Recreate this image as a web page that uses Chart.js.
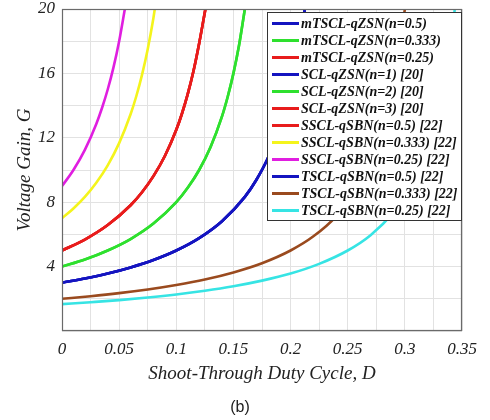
<!DOCTYPE html>
<html>
<head>
<meta charset="utf-8">
<script src="https://cdn.jsdelivr.net/npm/chart.js@4.4.1/dist/chart.umd.min.js"></script>
<style>
  html, body { margin: 0; padding: 0; background: #fff; }
  #wrap { width: 490px; height: 420px; position: relative; }
</style>
</head>
<body>
<div id="wrap"><canvas id="gain" width="490" height="420"></canvas></div>
<script>
  // Voltage gain G vs shoot-through duty cycle D.
  // Each visible curve is shared by several legend entries (they overlap).
  var dG3 = [0, 0.02, 0.04, 0.06, 0.08, 0.10, 0.12, 0.14, 0.16, 0.17, 0.18, 0.19, 0.20, 0.205, 0.21, 0.2125];
  var gG3 = [3.00, 3.26, 3.57, 3.95, 4.41, 5.00, 5.77, 6.82, 8.33, 9.38, 10.71, 12.5, 15.0, 16.67, 18.75, 20];

  var dG4 = [0, 0.02, 0.04, 0.06, 0.08, 0.10, 0.11, 0.12, 0.13, 0.14, 0.145, 0.15, 0.155, 0.16];
  var gG4 = [4.00, 4.44, 5.00, 5.71, 6.67, 8.00, 8.89, 10.0, 11.43, 13.33, 14.55, 16.0, 17.78, 20];

  var dG5 = [0, 0.02, 0.04, 0.06, 0.07, 0.08, 0.09, 0.10, 0.105, 0.11, 0.115, 0.12, 0.1255];
  var gG5 = [5.00, 5.68, 6.58, 7.81, 8.62, 9.62, 10.87, 12.5, 13.51, 14.71, 16.13, 17.86, 20];

  var dG7 = [0, 0.01, 0.02, 0.03, 0.04, 0.05, 0.06, 0.065, 0.07, 0.075, 0.08, 0.0812];
  var gG7 = [7.00, 7.61, 8.33, 9.21, 10.29, 11.67, 13.46, 14.58, 15.91, 17.5, 19.44, 20];

  var dG9 = [0, 0.01, 0.02, 0.03, 0.035, 0.04, 0.045, 0.05, 0.055];
  var gG9 = [9.00, 10.0, 11.25, 12.86, 13.85, 15.0, 16.36, 18.0, 20];

  var dG2 = [0, 0.025, 0.05, 0.075, 0.10, 0.125, 0.15, 0.175, 0.20, 0.22, 0.24, 0.26, 0.27, 0.28, 0.29, 0.295, 0.30];
  var gG2 = [2.00, 2.16, 2.35, 2.58, 2.86, 3.20, 3.64, 4.21, 5.00, 5.88, 7.14, 9.09, 10.53, 12.5, 15.38, 17.39, 20];

  var dG167 = [0, 0.025, 0.05, 0.075, 0.10, 0.125, 0.15, 0.175, 0.20, 0.225, 0.25, 0.27, 0.29, 0.30, 0.31, 0.32, 0.33, 0.335, 0.34, 0.3437];
  var gG167 = [1.67, 1.79, 1.92, 2.08, 2.27, 2.50, 2.78, 3.13, 3.57, 4.17, 5.00, 5.95, 7.35, 8.33, 9.62, 11.36, 13.89, 15.63, 17.86, 20];

  var seriesLabels = [
    "mTSCL-qZSN(n=0.5)", "mTSCL-qZSN(n=0.333)", "mTSCL-qZSN(n=0.25)",
    "SCL-qZSN(n=1) [20]", "SCL-qZSN(n=2) [20]", "SCL-qZSN(n=3) [20]",
    "SSCL-qSBN(n=0.5) [22]", "SSCL-qSBN(n=0.333) [22]", "SSCL-qSBN(n=0.25) [22]",
    "TSCL-qSBN(n=0.5) [22]", "TSCL-qSBN(n=0.333) [22]", "TSCL-qSBN(n=0.25) [22]"
  ];
  var seriesX = [dG3, dG4, dG5, dG3, dG4, dG5, dG5, dG7, dG9, dG3, dG2, dG167];
  var seriesY = [gG3, gG4, gG5, gG3, gG4, gG5, gG5, gG7, gG9, gG3, gG2, gG167];

  var C = {
    blue: "#1414c0", green: "#2ee02e", red: "#e81c1c", yellow: "#f4f41c",
    magenta: "#e01ee0", brown: "#9a4a1e", cyan: "#36e4e4"
  };
  var seriesColors = [C.blue, C.green, C.red, C.blue, C.green, C.red,
                      C.red, C.yellow, C.magenta, C.blue, C.brown, C.cyan];

  var SERIF = '"Liberation Serif", "DejaVu Serif", serif';

  function pts(xs, ys) {
    return xs.map(function (x, i) { return { x: x, y: ys[i] }; });
  }

  var datasets = seriesLabels.map(function (lab, i) {
    return {
      label: lab, data: pts(seriesX[i], seriesY[i]),
      borderColor: seriesColors[i], backgroundColor: seriesColors[i],
      borderWidth: 2.6, pointRadius: 0, showLine: true,
      cubicInterpolationMode: "monotone"
    };
  });

  /* plot frame + boxed legend drawn over the curves (MATLAB style) */
  var framePlugin = {
    id: "frame",
    afterDatasetsDraw: function (chart) {
      var a = chart.chartArea, ctx = chart.ctx;
      ctx.save();
      ctx.strokeStyle = "#6a6a6a";
      ctx.lineWidth = 1.2;
      ctx.strokeRect(a.left + 0.5, a.top + 0.5, a.right - a.left - 1, a.bottom - a.top - 1);

      var w = 194, rowH = 17, x0 = a.right - w - 1, y0 = a.top + 3;
      var h = rowH * chart.data.datasets.length + 4;
      ctx.fillStyle = "#fff";
      ctx.fillRect(x0, y0, w, h);
      ctx.strokeStyle = "#333";
      ctx.lineWidth = 1;
      ctx.strokeRect(x0 + 0.5, y0 + 0.5, w, h);
      ctx.font = "bold italic 14px " + SERIF;
      ctx.textBaseline = "middle";
      chart.data.datasets.forEach(function (ds, i) {
        var cy = y0 + 11.5 + i * rowH;
        ctx.strokeStyle = ds.borderColor;
        ctx.lineWidth = 3;
        ctx.beginPath();
        ctx.moveTo(x0 + 5, cy);
        ctx.lineTo(x0 + 32, cy);
        ctx.stroke();
        ctx.fillStyle = "#111";
        ctx.fillText(ds.label, x0 + 34, cy + 0.5);
      });
      ctx.restore();
    },
    afterDraw: function (chart) {
      var ctx = chart.ctx;
      ctx.save();
      ctx.font = '16px "Liberation Sans", Arial, sans-serif';
      ctx.fillStyle = "#222";
      ctx.textAlign = "center";
      ctx.textBaseline = "middle";
      ctx.fillText("(b)", 240, 408);
      ctx.restore();
    }
  };

  function near(v, step) { return Math.abs(v / step - Math.round(v / step)) < 1e-6; }

  new Chart(document.getElementById("gain"), {
    type: "scatter",
    data: { datasets: datasets },
    plugins: [framePlugin],
    options: {
      responsive: false, animation: false,
      layout: { padding: { left: 0, right: 28, top: 9, bottom: 0 } },
      plugins: { legend: { display: false }, tooltip: { enabled: false } },
      scales: {
        x: {
          min: 0, max: 0.35,
          afterFit: function (s) { s.height = 89; },
          grid: { color: "#e2e2e2", drawTicks: false },
          border: { display: false },
          ticks: {
            stepSize: 0.025, padding: 8, color: "#222", maxRotation: 0, autoSkip: false,
            font: { family: SERIF, style: "italic", size: 17 },
            callback: function (v) { return near(v, 0.05) ? String(+v.toFixed(3)) : ""; }
          },
          title: {
            display: true, text: "Shoot-Through Duty Cycle, D", color: "#222",
            font: { family: SERIF, style: "italic", size: 19 },
            padding: { top: 0, bottom: 35 }
          }
        },
        y: {
          min: 0, max: 20,
          afterFit: function (s) { s.width = 62; s.paddingTop = 0; s.paddingBottom = 0; },
          grid: { color: "#e2e2e2", drawTicks: false },
          border: { display: false },
          ticks: {
            stepSize: 2, padding: 7, color: "#222", autoSkip: false,
            font: { family: SERIF, style: "italic", size: 17 },
            callback: function (v) { return (v % 4 === 0 && v !== 0) ? String(v) : ""; }
          },
          title: {
            display: true, text: "Voltage Gain, G", color: "#222",
            font: { family: SERIF, style: "italic", size: 19 },
            padding: { top: 14, bottom: 0 }
          }
        }
      }
    }
  });
</script>
</body>
</html>
